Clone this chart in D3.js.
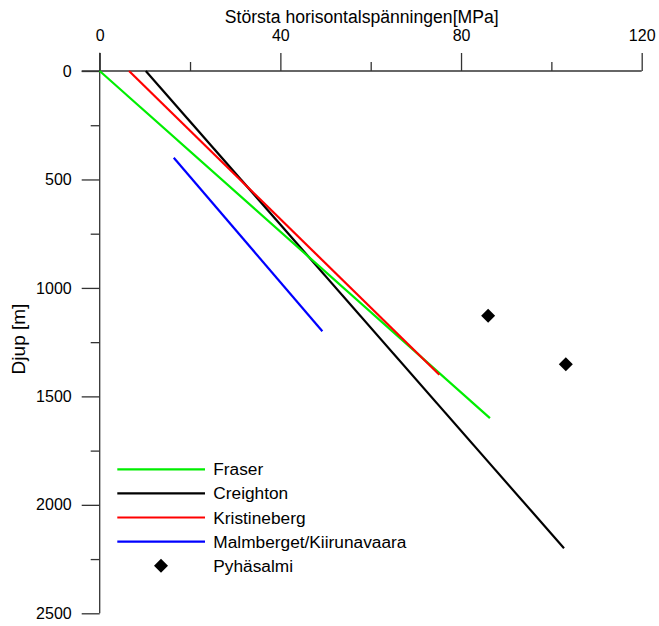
<!DOCTYPE html>
<html>
<head>
<meta charset="utf-8">
<script src="https://cdn.jsdelivr.net/npm/d3@7"></script>
<style>
  body { margin: 0; background: #fff; }
  svg { display: block; font-family: "Liberation Sans", Arial, sans-serif; }
</style>
</head>
<body>
<svg id="chart" width="659" height="626"></svg>
<script>
// ---- data ----
const seriesNames = ["Fraser", "Creighton", "Kristineberg", "Malmberget/Kiirunavaara"];
const seriesColors = ["#00ee00", "#000000", "#ff0000", "#0000ff"];
const fraser = [[0, 0], [86.4, 1600]];
const creighton = [[10.2, 0], [102.8, 2200]];
const kristineberg = [[6.5, 0], [75.2, 1400]];
const malmberget = [[16.4, 400], [49.3, 1200]];
const pyhasalmi = [[86.0, 1128], [103.2, 1352]];
const pointName = "Pyhäsalmi";
const xMajorTicks = [0, 40, 80, 120];
const xMinorTicks = [20, 60, 100];
const yMajorTicks = [0, 500, 1000, 1500, 2000, 2500];
const yMinorTicks = [250, 750, 1250, 1750, 2250];
const xTitle = "Största horisontalspänningen[MPa]";
const yTitle = "Djup [m]";

const svg = d3.select("#chart");
const x = d3.scaleLinear().domain([0, 120]).range([99.7, 641.7]);
const y = d3.scaleLinear().domain([0, 2500]).range([71, 613.3]);
const axisColor = "#333";

// x axis (top)
const gx = svg.append("g").attr("transform", `translate(0,${y(0)})`);
gx.call(d3.axisTop(x).tickValues(xMajorTicks).tickSize(18).tickPadding(13).tickSizeOuter(0).tickFormat(d3.format("d")));
gx.append("g").call(d3.axisTop(x).tickValues(xMinorTicks).tickSize(9).tickFormat(""));
gx.selectAll(".domain").remove();
gx.append("line").attr("x1", 81.7).attr("x2", x(120)).attr("y1", 0).attr("y2", 0);

// y axis (left)
const gy = svg.append("g").attr("transform", `translate(${x(0)},0)`);
gy.call(d3.axisLeft(y).tickValues(yMajorTicks).tickSize(18).tickPadding(10).tickSizeOuter(0).tickFormat(d3.format("d")));
gy.append("g").call(d3.axisLeft(y).tickValues(yMinorTicks).tickSize(9).tickFormat(""));
gy.selectAll(".domain").remove();
gy.append("line").attr("x1", 0).attr("x2", 0).attr("y1", 52.7).attr("y2", y(2500));

svg.selectAll(".tick line").attr("stroke", axisColor).attr("stroke-width", 1.3);
svg.selectAll("g > line").attr("stroke", axisColor).attr("stroke-width", 1.3);
svg.selectAll(".tick text").attr("font-size", 16).attr("fill", "#000")
   .attr("font-family", "'Liberation Sans', Arial, sans-serif");
gx.selectAll(".tick text").attr("dy", 0).attr("y", -30);

// titles
svg.append("text").attr("x", 361.7).attr("y", 23).attr("text-anchor", "middle")
   .attr("font-size", 17.6).text(xTitle);
svg.append("text").attr("transform", "translate(25,339) rotate(-90)")
   .attr("text-anchor", "middle").attr("font-size", 19).text(yTitle);

// lines
const line = d3.line().x(d => x(d[0])).y(d => y(d[1]));
const seriesData = [fraser, creighton, kristineberg, malmberget];
const drawOrder = [1, 3, 0, 2];
drawOrder.forEach(i => {
  svg.append("path").datum(seriesData[i]).attr("d", line)
     .attr("fill", "none").attr("stroke", seriesColors[i]).attr("stroke-width", 2.2);
});

// points
const diamond = d3.symbol().type(d3.symbolSquare).size(98);
svg.selectAll(".pt").data(pyhasalmi).enter().append("path")
   .attr("class", "pt")
   .attr("d", diamond)
   .attr("transform", d => `translate(${x(d[0])},${y(d[1])}) rotate(45)`)
   .attr("fill", "#000");

// legend
const lg = svg.append("g");
seriesNames.forEach((name, i) => {
  const yy = 469.3 + i * 24.1;
  lg.append("line").attr("x1", 117.3).attr("x2", 205).attr("y1", yy).attr("y2", yy)
    .attr("stroke", seriesColors[i]).attr("stroke-width", 2.2);
  lg.append("text").attr("x", 213.3).attr("y", yy + 6).attr("font-size", 17.3).text(name);
});
const py = 469.3 + 4 * 24.1;
lg.append("path").attr("d", diamond).attr("transform", `translate(161,${py}) rotate(45)`).attr("fill", "#000");
lg.append("text").attr("x", 213.3).attr("y", py + 6).attr("font-size", 17.3).text(pointName);
</script>
</body>
</html>
